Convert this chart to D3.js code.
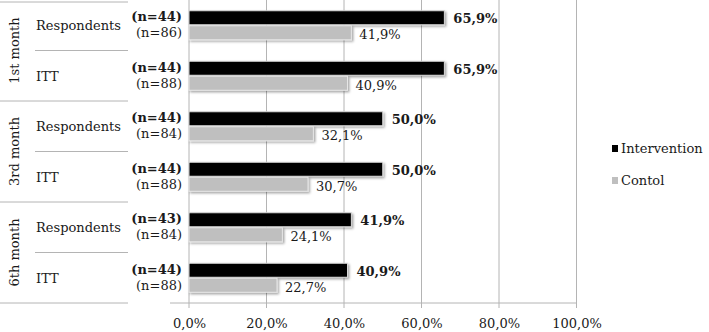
<!DOCTYPE html>
<html>
<head>
<meta charset="utf-8">
<script src="https://cdn.jsdelivr.net/npm/d3@7"></script>
<style>
  body { margin: 0; background: #fff; }
  svg { font-family: "DejaVu Serif", serif; }
</style>
</head>
<body>
<div id="chart"></div>
<script>
// datos
const months = ["1st month", "3rd month", "6th month"];
const groups = ["Respondents", "ITT"];
const intervention = [65.9, 65.9, 50.0, 50.0, 41.9, 40.9];
const control = [41.9, 40.9, 32.1, 30.7, 24.1, 22.7];
const nIntervention = [44, 44, 44, 44, 43, 44];
const nControl = [86, 88, 84, 88, 84, 88];
const ticks = [0, 20, 40, 60, 80, 100];
const seriesNames = ["Intervention", "Contol"];

const W = 709, H = 332;
const x0 = 189, x1 = 576.5, plotTop = 0, plotBottom = 303;

const svg = d3.select("#chart").append("svg")
    .attr("width", W)
    .attr("height", H);

const defs = svg.append("defs");
const f = defs.append("filter").attr("id", "shadow")
    .attr("x", "-5%").attr("y", "-30%").attr("width", "110%").attr("height", "170%");
f.append("feDropShadow").attr("dx", 1.5).attr("dy", 1.5).attr("stdDeviation", 1)
    .attr("flood-color", "#000").attr("flood-opacity", 0.35);

const rows = d3.range(intervention.length);
const x = d3.scaleLinear().domain([0, 100]).range([x0, x1]);
const y = d3.scaleBand().domain(rows).range([plotTop, plotBottom]);

// grid
svg.append("g").selectAll("line")
    .data(ticks)
    .enter().append("line")
    .attr("x1", d => x(d)).attr("x2", d => x(d))
    .attr("y1", plotTop).attr("y2", plotBottom + 5)
    .attr("stroke", "#b4b4b4").attr("stroke-width", 1);

// eje x
const gx = svg.append("g")
    .attr("transform", `translate(0, ${plotBottom})`)
    .call(d3.axisBottom(x).tickValues(ticks).tickSize(0).tickPadding(16)
        .tickFormat(d => d3.format(".1f")(d).replace(".", ",") + "%"));
gx.select(".domain").remove();
gx.selectAll("text")
    .attr("font-family", "DejaVu Serif")
    .attr("font-size", 13)
    .attr("fill", "#1a1a1a");

svg.append("line")
    .attr("x1", 170).attr("x2", x1)
    .attr("y1", plotBottom).attr("y2", plotBottom)
    .attr("stroke", "#b4b4b4");

// tabla izquierda
const lineColor = "#b4b4b4";
[0, 2, 4, 6].forEach(i => {
    const yy = i === 0 ? 2 : (i === 6 ? plotBottom : y(i));
    svg.append("line")
        .attr("x1", 0).attr("x2", 128)
        .attr("y1", yy).attr("y2", yy)
        .attr("stroke", lineColor);
});
[1, 3, 5].forEach(i => {
    svg.append("line")
        .attr("x1", 35).attr("x2", 128)
        .attr("y1", y(i)).attr("y2", y(i))
        .attr("stroke", lineColor);
});

months.forEach((m, i) => {
    const cy = (y(i * 2) + y(i * 2 + 1) + y.bandwidth()) / 2;
    svg.append("text")
        .attr("transform", `translate(19, ${cy}) rotate(-90)`)
        .attr("text-anchor", "middle")
        .attr("font-size", 13)
        .attr("fill", "#1a1a1a")
        .text(m);
});

rows.forEach(i => {
    svg.append("text")
        .attr("x", 36)
        .attr("y", y(i) + y.bandwidth() / 2 + 5)
        .attr("font-size", 13)
        .attr("fill", "#1a1a1a")
        .text(groups[i % 2]);
});

// barras
const bh = 14;
const bars = svg.append("g");
rows.forEach(i => {
    const c = y(i) + y.bandwidth() / 2;
    bars.append("rect")
        .attr("x", x(0)).attr("y", c - bh - 0.5)
        .attr("width", x(intervention[i]) - x(0)).attr("height", bh)
        .attr("fill", "#000")
        .attr("stroke", "#d9d9d9").attr("stroke-width", 1)
        .attr("filter", "url(#shadow)");
    bars.append("rect")
        .attr("x", x(0)).attr("y", c + 0.5)
        .attr("width", x(control[i]) - x(0)).attr("height", bh)
        .attr("fill", "#bfbfbf")
        .attr("stroke", "#e6e6e6").attr("stroke-width", 1)
        .attr("filter", "url(#shadow)");

    // valores
    svg.append("text")
        .attr("x", x(intervention[i]) + 9)
        .attr("y", c - bh / 2 + 5)
        .attr("font-size", 13).attr("font-weight", "bold")
        .attr("fill", "#1a1a1a")
        .text(d3.format(".1f")(intervention[i]).replace(".", ",") + "%");
    svg.append("text")
        .attr("x", x(control[i]) + 8)
        .attr("y", c + bh / 2 + 7)
        .attr("font-size", 13)
        .attr("fill", "#1a1a1a")
        .text(d3.format(".1f")(control[i]).replace(".", ",") + "%");

    // n
    svg.append("text")
        .attr("x", 182).attr("y", c - bh / 2 + 3)
        .attr("text-anchor", "end")
        .attr("font-size", 13).attr("font-weight", "bold")
        .attr("fill", "#1a1a1a")
        .text("(n=" + nIntervention[i] + ")");
    svg.append("text")
        .attr("x", 182).attr("y", c + bh / 2 + 5)
        .attr("text-anchor", "end")
        .attr("font-size", 13)
        .attr("fill", "#1a1a1a")
        .text("(n=" + nControl[i] + ")");
});

// leyenda
const legend = svg.append("g").attr("transform", "translate(612, 145)");
seriesNames.forEach((s, i) => {
    legend.append("rect")
        .attr("x", 0).attr("y", i * 32)
        .attr("width", 6).attr("height", 7)
        .attr("fill", i === 0 ? "#000" : "#bfbfbf");
    legend.append("text")
        .attr("x", 9).attr("y", i * 32 + 8)
        .attr("font-size", 13)
        .attr("fill", "#1a1a1a")
        .text(s);
});
</script>
</body>
</html>
